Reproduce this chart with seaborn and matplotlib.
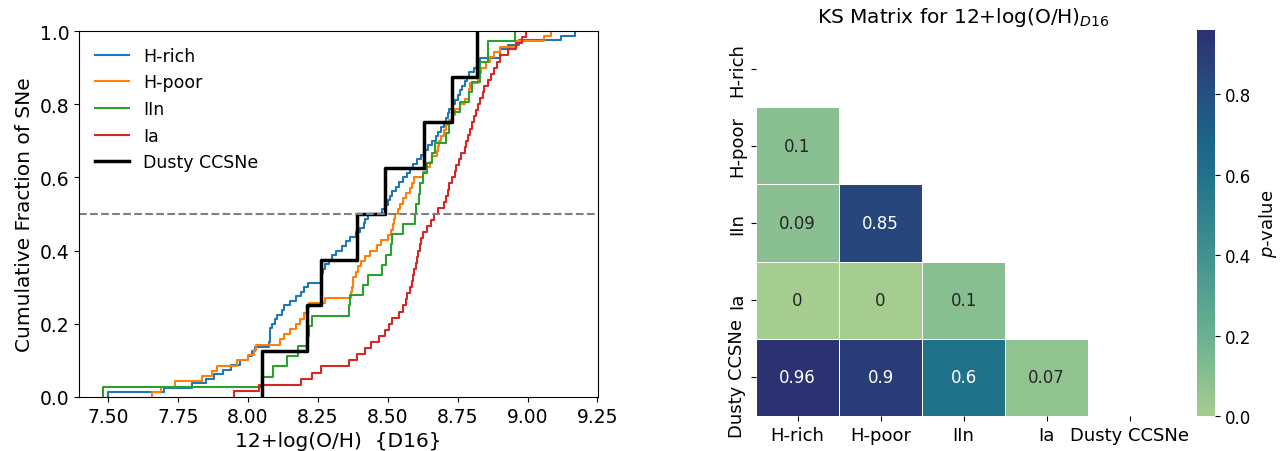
import numpy as np
import pandas as pd
import matplotlib
matplotlib.use("Agg")
import matplotlib.pyplot as plt
import seaborn as sns

# 12+log(O/H) (D16) values per SN class
h_rich = [7.50, 7.70, 7.80, 7.85, 7.88, 7.91, 7.94, 7.97, 8.00, 8.015,
          8.025, 8.075, 8.078, 8.08, 8.08, 8.085, 8.096, 8.105, 8.12, 8.13,
          8.15, 8.17, 8.19, 8.20, 8.215, 8.26, 8.265, 8.27, 8.275, 8.29,
          8.30, 8.315, 8.335, 8.35, 8.365, 8.385, 8.40, 8.415, 8.42, 8.43,
          8.48, 8.49, 8.50, 8.507, 8.515, 8.528, 8.54, 8.555, 8.57, 8.58,
          8.59, 8.605, 8.62, 8.632, 8.645, 8.66, 8.673, 8.68, 8.69, 8.70,
          8.71, 8.715, 8.72, 8.73, 8.74, 8.75, 8.757, 8.765, 8.775, 8.785,
          8.79, 8.81, 8.825, 8.83, 8.90, 8.90, 8.93, 8.97, 9.12, 9.168]
h_poor = [7.656, 7.69, 7.74, 7.835, 7.87, 7.888, 7.96, 8.00, 8.02, 8.03,
          8.114, 8.13, 8.15, 8.17, 8.186, 8.20, 8.215, 8.22, 8.275, 8.37,
          8.372, 8.374, 8.376, 8.385, 8.395, 8.405, 8.42, 8.435, 8.46, 8.475,
          8.50, 8.51, 8.518, 8.522, 8.527, 8.537, 8.545, 8.555, 8.567, 8.578,
          8.588, 8.595, 8.625, 8.638, 8.65, 8.66, 8.675, 8.68, 8.685, 8.69,
          8.70, 8.71, 8.72, 8.73, 8.74, 8.757, 8.775, 8.79, 8.792, 8.795,
          8.823, 8.83, 8.834, 8.85, 8.865, 8.88, 8.90, 8.96, 9.06, 9.084]
iin = [7.48, 8.05, 8.09, 8.14, 8.18, 8.21, 8.22, 8.23, 8.36, 8.365,
       8.41, 8.43, 8.48, 8.495, 8.51, 8.515, 8.555, 8.596, 8.60, 8.61,
       8.615, 8.626, 8.64, 8.66, 8.67, 8.71, 8.72, 8.73, 8.76, 8.79,
       8.80, 8.83, 8.83, 8.858, 8.86, 8.954]
ia = [7.95, 8.04, 8.19, 8.23, 8.26, 8.36, 8.39, 8.42, 8.44, 8.47,
      8.49, 8.505, 8.515, 8.54, 8.555, 8.565, 8.57, 8.578, 8.585, 8.59,
      8.595, 8.60, 8.605, 8.608, 8.615, 8.62, 8.625, 8.64, 8.655, 8.665,
      8.68, 8.70, 8.71, 8.715, 8.72, 8.73, 8.74, 8.745, 8.755, 8.763,
      8.775, 8.78, 8.788, 8.793, 8.80, 8.81, 8.817, 8.823, 8.83, 8.84,
      8.846, 8.86, 8.87, 8.88, 8.89, 8.90, 8.93, 8.96, 8.98, 8.995]
dusty = [8.05, 8.21, 8.26, 8.39, 8.49, 8.63, 8.73, 8.82]

groups = ["H-rich", "H-poor", "IIn", "Ia", "Dusty CCSNe"]
colors = ["tab:blue", "tab:orange", "tab:green", "tab:red", "black"]

# KS p-values (lower triangle, one list per column)
ks_rich = [np.nan, 0.1, 0.09, 0, 0.96]
ks_poor = [np.nan, np.nan, 0.85, 0, 0.9]
ks_iin = [np.nan, np.nan, np.nan, 0.1, 0.6]
ks_ia = [np.nan, np.nan, np.nan, np.nan, 0.07]
ks_dusty = [np.nan] * 5

fig = plt.figure(figsize=(12.81, 4.52), dpi=100)
ax1 = fig.add_axes([0.0617, 0.1195, 0.4052, 0.8097])
ax2 = fig.add_axes([0.5902, 0.0774, 0.3240, 0.8540])
cax = fig.add_axes([0.9344, 0.0774, 0.0141, 0.8540])

samples = [h_rich, h_poor, iin, ia, dusty]
for vals, name, c in zip(samples, groups, colors):
    lw = 2.5 if name == "Dusty CCSNe" else 1.5
    sns.ecdfplot(x=vals, ax=ax1, color=c, label=name, linewidth=lw)
ax1.axhline(0.5, color="gray", linestyle="--", linewidth=1.5)
ax1.set_ylim(0, 1)
ax1.set_xlabel("12+log(O/H)  {D16}", fontsize=14.5)
ax1.set_ylabel("Cumulative Fraction of SNe", fontsize=14.5)
ax1.tick_params(labelsize=13.5)
ax1.legend(loc="upper left", frameon=False, fontsize=12.5)

mat = pd.DataFrame([ks_rich, ks_poor, ks_iin, ks_ia, ks_dusty],
                   index=groups, columns=groups).T
mask = np.triu(np.ones((5, 5), dtype=bool))
sns.heatmap(mat, mask=mask, cmap="crest", annot=True, fmt=".2g",
            linewidths=0.7, linecolor="white", ax=ax2, cbar_ax=cax,
            annot_kws={"fontsize": 12},
            cbar_kws={"label": "$p$-value"})
ax2.set_title("KS Matrix for 12+log(O/H)$_{D16}$", fontsize=14.5)
ax2.tick_params(labelsize=13)
ax2.set_xticklabels(groups, rotation=0)
ax2.set_yticklabels(groups, rotation=90, va="center")
cax.tick_params(labelsize=12)
cax.yaxis.label.set_size(13)

fig.savefig("out.png", dpi=100)
